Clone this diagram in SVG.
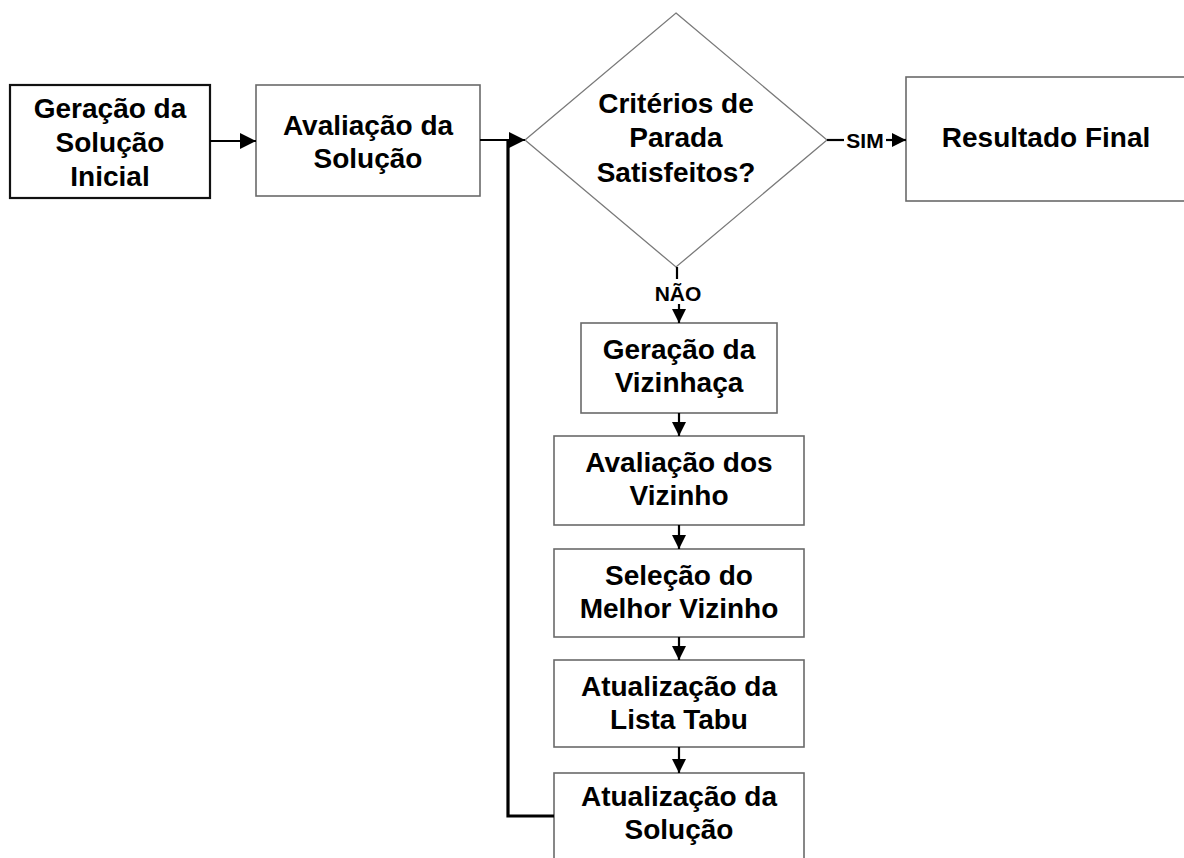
<svg xmlns="http://www.w3.org/2000/svg" width="1184" height="858" viewBox="0 0 1184 858">
  <style>
    .box { fill: #ffffff; stroke: #6a6a6a; stroke-width: 1.6; }
    .box-strong { fill: #ffffff; stroke: #111111; stroke-width: 2.2; }
    .diamond { fill: #ffffff; stroke: #7a7a7a; stroke-width: 1.3; }
    .lbl { font-family: "Liberation Sans", Arial, sans-serif; font-weight: bold; font-size: 28px; fill: #000000; text-anchor: middle; }
    .edge-lbl { font-family: "Liberation Sans", Arial, sans-serif; font-weight: bold; font-size: 21px; fill: #000000; text-anchor: middle; }
    .wire { fill: none; stroke: #000000; stroke-width: 2.2; }
    .wire-thick { fill: none; stroke: #000000; stroke-width: 3.2; }
  </style>
  <defs>
    <marker id="arrow" viewBox="0 0 10 10" refX="10" refY="5" markerWidth="14" markerHeight="14" markerUnits="userSpaceOnUse" orient="auto">
      <path d="M0,0 L10,5 L0,10 Z" fill="#000000"/>
    </marker>
    <marker id="arrow-big" viewBox="0 0 10 10" refX="10" refY="5" markerWidth="18" markerHeight="16" markerUnits="userSpaceOnUse" orient="auto">
      <path d="M0,0 L10,5 L0,10 Z" fill="#000000"/>
    </marker>
  </defs>

  <!-- process nodes -->
  <g id="geracao-solucao-inicial">
    <rect class="box-strong" x="10" y="85" width="200" height="113"/>
    <text class="lbl" x="110" y="118">Geração da</text>
    <text class="lbl" x="110" y="152">Solução</text>
    <text class="lbl" x="110" y="186">Inicial</text>
  </g>

  <g id="avaliacao-solucao">
    <rect class="box" x="256" y="85" width="224" height="111"/>
    <text class="lbl" x="368" y="135">Avaliação da</text>
    <text class="lbl" x="368" y="168">Solução</text>
  </g>

  <g id="criterios-parada">
    <polygon class="diamond" points="676,13 827,140 676,267 525,140"/>
    <text class="lbl" x="676" y="113">Critérios de</text>
    <text class="lbl" x="676" y="147">Parada</text>
    <text class="lbl" x="676" y="182">Satisfeitos?</text>
  </g>

  <g id="resultado-final">
    <rect class="box" x="906" y="77" width="300" height="124"/>
    <text class="lbl" x="1046" y="147">Resultado Final</text>
  </g>

  <g id="geracao-vizinhanca">
    <rect class="box" x="581" y="323" width="196" height="90"/>
    <text class="lbl" x="679" y="359">Geração da</text>
    <text class="lbl" x="679" y="392">Vizinhaça</text>
  </g>

  <g id="avaliacao-vizinhos">
    <rect class="box" x="554" y="436" width="250" height="89"/>
    <text class="lbl" x="679" y="472">Avaliação dos</text>
    <text class="lbl" x="679" y="505">Vizinho</text>
  </g>

  <g id="selecao-melhor-vizinho">
    <rect class="box" x="554" y="549" width="250" height="88"/>
    <text class="lbl" x="679" y="585">Seleção do</text>
    <text class="lbl" x="679" y="618">Melhor Vizinho</text>
  </g>

  <g id="atualizacao-lista-tabu">
    <rect class="box" x="554" y="660" width="250" height="87"/>
    <text class="lbl" x="679" y="696">Atualização da</text>
    <text class="lbl" x="679" y="729">Lista Tabu</text>
  </g>

  <g id="atualizacao-solucao">
    <rect class="box" x="554" y="773" width="250" height="92"/>
    <text class="lbl" x="679" y="806">Atualização da</text>
    <text class="lbl" x="679" y="839">Solução</text>
  </g>

  <!-- connectors -->
  <g id="connectors">
    <line class="wire" x1="210" y1="141" x2="256" y2="141" marker-end="url(#arrow-big)"/>
    <line class="wire" x1="480" y1="140" x2="525" y2="140" marker-end="url(#arrow-big)"/>
    <!-- loop back from the solution update -->
    <polyline class="wire-thick" points="554,816 508,816 508,140"/>

    <!-- SIM branch -->
    <line class="wire" x1="827" y1="140" x2="844" y2="140"/>
    <text class="edge-lbl" x="865" y="148">SIM</text>
    <line class="wire" x1="886" y1="140" x2="906" y2="140" marker-end="url(#arrow)"/>

    <!-- NÃO branch -->
    <line class="wire" x1="677" y1="267" x2="677" y2="279"/>
    <text class="edge-lbl" x="678" y="301">NÃO</text>
    <line class="wire" x1="679" y1="304" x2="679" y2="323" marker-end="url(#arrow)"/>

    <line class="wire" x1="679" y1="413" x2="679" y2="436" marker-end="url(#arrow)"/>
    <line class="wire" x1="679" y1="525" x2="679" y2="549" marker-end="url(#arrow)"/>
    <line class="wire" x1="679" y1="637" x2="679" y2="660" marker-end="url(#arrow)"/>
    <line class="wire" x1="679" y1="747" x2="679" y2="773" marker-end="url(#arrow)"/>
  </g>
</svg>
